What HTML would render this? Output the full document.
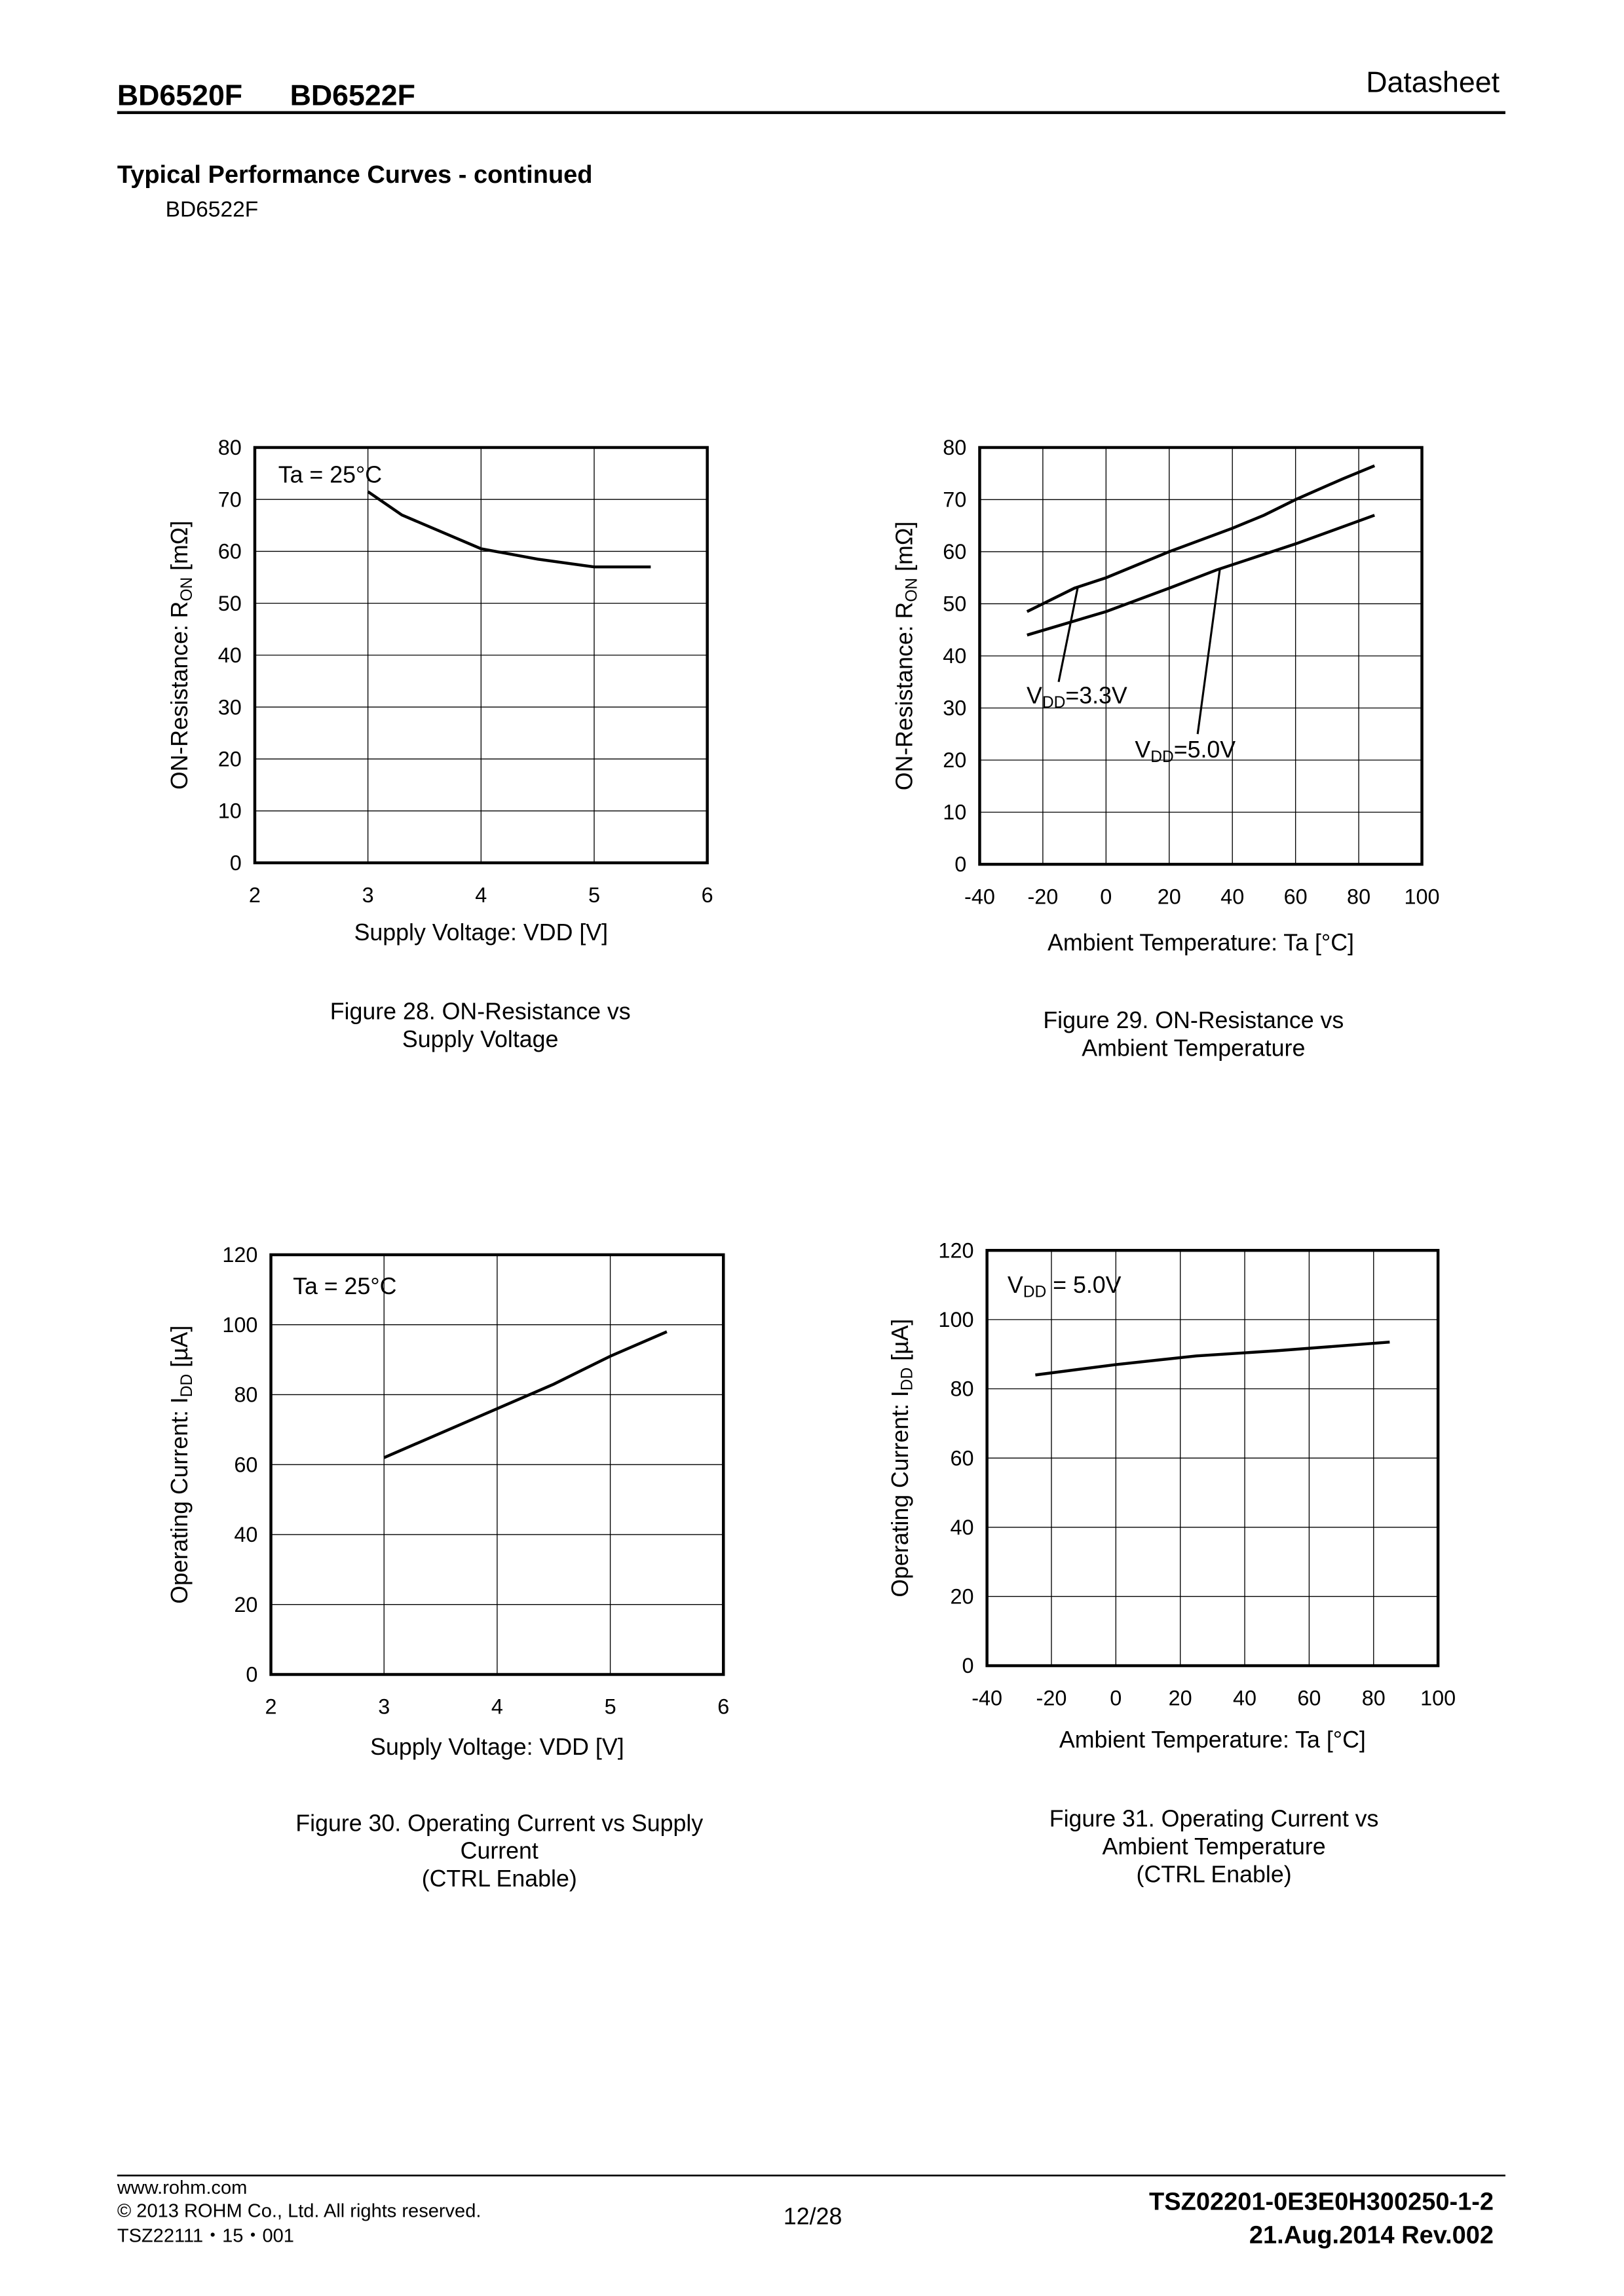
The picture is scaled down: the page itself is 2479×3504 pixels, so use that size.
<!DOCTYPE html>
<html><head><meta charset="utf-8"><style>
html,body{margin:0;padding:0;background:#fff}
svg{display:block}
text{font-family:"Liberation Sans",Arial,sans-serif;fill:#000}
</style></head><body>
<svg id="s" xmlns="http://www.w3.org/2000/svg" width="2479" height="3504" viewBox="0 0 1109 1570" preserveAspectRatio="none">
<rect width="1109" height="1570" fill="#fff"/>
<text x="80" y="72" font-size="20" font-weight="bold">BD6520F</text>
<text x="198" y="72" font-size="20" font-weight="bold">BD6522F</text>
<text x="1024" y="63" font-size="20" text-anchor="end">Datasheet</text>
<rect x="80" y="76" width="948" height="2" fill="#000"/>
<text x="80" y="125" font-size="17" font-weight="bold">Typical Performance Curves - continued</text>
<text x="113" y="148" font-size="15">BD6522F</text>
<rect x="80" y="1487" width="948" height="1.2" fill="#000"/>
<text x="80" y="1500" font-size="13">www.rohm.com</text>
<text x="80" y="1516" font-size="13">© 2013 ROHM Co., Ltd. All rights reserved.</text>
<text x="80" y="1533" font-size="13">TSZ22111・15・001</text>
<text x="555" y="1521" font-size="16" text-anchor="middle">12/28</text>
<text x="1020" y="1511" font-size="17" font-weight="bold" text-anchor="end">TSZ02201-0E3E0H300250-1-2</text>
<text x="1020" y="1534" font-size="17" font-weight="bold" text-anchor="end">21.Aug.2014 Rev.002</text>
<g id="charts"></g>
</svg>
<script>
var g=document.getElementById('charts'),out='';
function chart(c){
 var X=function(v){return c.x0+(v-c.xmin)/(c.xmax-c.xmin)*(c.x1-c.x0)};
 var Y=function(v){return c.y1-(v-c.ymin)/(c.ymax-c.ymin)*(c.y1-c.y0)};
 for(var v=c.xmin;v<=c.xmax+1e-9;v+=c.xs){var x=X(v);
  out+='<line x1="'+x+'" y1="'+c.y0+'" x2="'+x+'" y2="'+c.y1+'" stroke="#000" stroke-width="0.6"/>';
  out+='<text x="'+x+'" y="'+(c.y1+27)+'" font-size="14.5" text-anchor="middle">'+v+'</text>';}
 for(var v=c.ymin;v<=c.ymax+1e-9;v+=c.ys){var y=Y(v);
  out+='<line x1="'+c.x0+'" y1="'+y+'" x2="'+c.x1+'" y2="'+y+'" stroke="#000" stroke-width="0.6"/>';
  out+='<text x="'+(c.x0-9)+'" y="'+(y+5)+'" font-size="14.5" text-anchor="end">'+v+'</text>';}
 out+='<rect x="'+c.x0+'" y="'+c.y0+'" width="'+(c.x1-c.x0)+'" height="'+(c.y1-c.y0)+'" fill="none" stroke="#000" stroke-width="2"/>';
 c.series.forEach(function(s){out+='<polyline fill="none" stroke="#000" stroke-width="2" points="'+s.map(function(p){return X(p[0])+','+Y(p[1])}).join(' ')+'"/>';});
 (c.leaders||[]).forEach(function(l){out+='<line x1="'+X(l[0])+'" y1="'+Y(l[1])+'" x2="'+X(l[2])+'" y2="'+Y(l[3])+'" stroke="#000" stroke-width="1.4"/>';});
 out+='<text x="'+((c.x0+c.x1)/2)+'" y="'+c.xt+'" font-size="16" text-anchor="middle">'+c.xtitle+'</text>';
 var cy=(c.y0+c.y1)/2;
 out+='<text transform="translate('+c.ytx+','+cy+') rotate(-90)" font-size="16" text-anchor="middle">'+c.ytitle+'</text>';
 out+=c.extra;
 c.cap.forEach(function(t,i){out+='<text x="'+c.capx+'" y="'+(c.capy+i*19)+'" font-size="16" text-anchor="middle">'+t+'</text>';});
}
var ron='ON-Resistance:  R<tspan font-size="11" dy="3">ON</tspan><tspan dy="-3"> [mΩ]</tspan>';
var idd='Operating Current:  I<tspan font-size="11" dy="3">DD</tspan><tspan dy="-3"> [µA]</tspan>';
chart({x0:174,x1:483,y0:306,y1:590,xmin:2,xmax:6,xs:1,ymin:0,ymax:80,ys:10,
 series:[[[3,71.5],[3.3,67],[4,60.5],[4.5,58.5],[5,57],[5.5,57]]],
 xt:643,xtitle:'Supply Voltage: VDD [V]',ytx:128,ytitle:ron,
 extra:'<text x="190" y="330" font-size="16">Ta = 25°C</text>',
 cap:['Figure 28. ON-Resistance vs','Supply Voltage'],capx:328,capy:697});
chart({x0:669,x1:971,y0:306,y1:591,xmin:-40,xmax:100,xs:20,ymin:0,ymax:80,ys:10,
 series:[[[-25,48.5],[-10,53],[0,55],[20,60],[40,64.5],[50,67],[60,70],[75,74],[85,76.5]],
         [[-25,44],[0,48.5],[20,53],[35,56.5],[60,61.5],[85,67]]],
 leaders:[[-9,53,-15,35],[36,56.5,29,25]],
 xt:650,xtitle:'Ambient Temperature: Ta [°C]',ytx:623,ytitle:ron,
 extra:'<text x="701" y="481" font-size="16">V<tspan font-size="11" dy="3">DD</tspan><tspan dy="-3">=3.3V</tspan></text><text x="775" y="518" font-size="16">V<tspan font-size="11" dy="3">DD</tspan><tspan dy="-3">=5.0V</tspan></text>',
 cap:['Figure 29. ON-Resistance vs','Ambient Temperature'],capx:815,capy:703});
chart({x0:185,x1:494,y0:858,y1:1145,xmin:2,xmax:6,xs:1,ymin:0,ymax:120,ys:20,
 series:[[[3,62],[4,76],[4.5,83],[5,91],[5.5,98]]],
 xt:1200,xtitle:'Supply Voltage: VDD [V]',ytx:128,ytitle:idd,
 extra:'<text x="200" y="885" font-size="16">Ta = 25°C</text>',
 cap:['Figure 30. Operating Current vs Supply','Current','(CTRL Enable)'],capx:341,capy:1252});
chart({x0:674,x1:982,y0:855,y1:1139,xmin:-40,xmax:100,xs:20,ymin:0,ymax:120,ys:20,
 series:[[[-25,84],[0,87],[25,89.5],[50,91],[85,93.5]]],
 xt:1195,xtitle:'Ambient Temperature: Ta [°C]',ytx:620,ytitle:idd,
 extra:'<text x="688" y="884" font-size="16">V<tspan font-size="11" dy="3">DD</tspan><tspan dy="-3"> = 5.0V</tspan></text>',
 cap:['Figure 31. Operating Current vs','Ambient Temperature','(CTRL Enable)'],capx:829,capy:1249});
g.innerHTML=out;
</script>
</body></html>
